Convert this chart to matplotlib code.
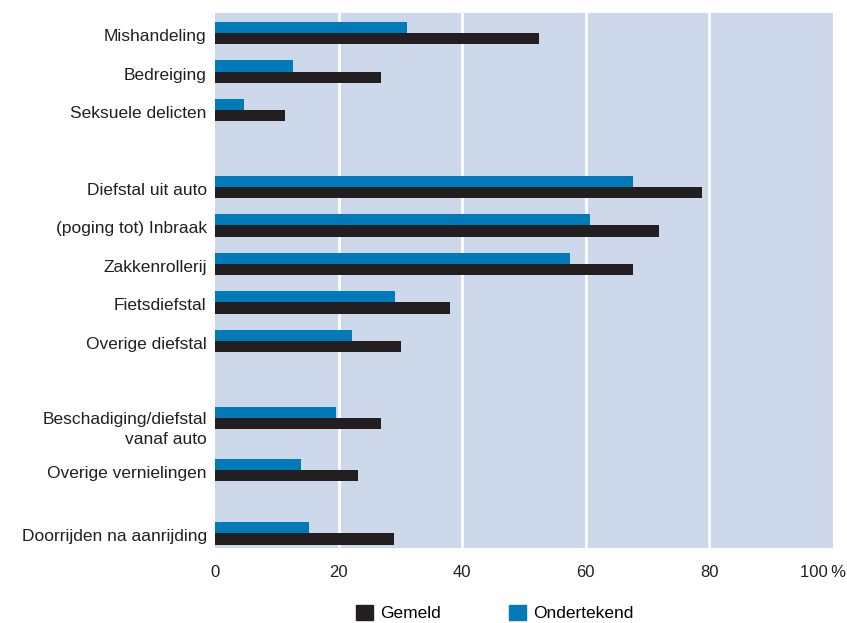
import numpy as np
import matplotlib.pyplot as plt
import matplotlib.transforms as mtransforms
from matplotlib.patches import Patch

# Data
categorieen = ['Mishandeling', 'Bedreiging', 'Seksuele delicten',
               'Diefstal uit auto', '(poging tot) Inbraak', 'Zakkenrollerij',
               'Fietsdiefstal', 'Overige diefstal',
               'Beschadiging/diefstal\nvanaf auto', 'Overige vernielingen',
               'Doorrijden na aanrijding']
gemeld = [52.4, 26.9, 11.3, 78.8, 71.9, 67.6, 38.1, 30.1, 26.9, 23.2, 28.9]
ondertekend = [31.1, 12.6, 4.7, 67.6, 60.7, 57.5, 29.2, 22.2, 19.6, 13.9, 15.2]
posities = [0, 1, 2, 4, 5, 6, 7, 8, 10, 11.35, 13]
xticks = [0, 20, 40, 60, 80, 100]
xticklabels = ['0', '20', '40', '60', '80', '100\u2009%']

kleur_gemeld = '#231f20'
kleur_onder = '#007ab8'
achtergrond = '#cdd9ea'

plt.rcParams['font.family'] = ['Liberation Sans', 'DejaVu Sans']

fig = plt.figure(figsize=(8.47, 6.23), dpi=100)
ax = fig.add_axes([215 / 847, 75 / 623, 618 / 847, 535 / 623])
ax.set_facecolor(achtergrond)

y = np.array(posities)
h = 0.29
ax.barh(y - h / 2, ondertekend, height=h, color=kleur_onder, zorder=3)
ax.barh(y + h / 2, gemeld, height=h, color=kleur_gemeld, zorder=3)

for x in xticks[1:-1]:
    ax.axvline(x, color='white', linewidth=2, zorder=1)

ax.set_xlim(0, 100)
ax.set_ylim(13.38, -0.52)
ax.set_yticks(y)
ax.set_yticklabels(categorieen, fontsize=12.5, color='#231f20',
                   linespacing=1.35)
ax.set_xticks(xticks)
ax.set_xticklabels(xticklabels, fontsize=12, color='#231f20')
ax.tick_params(axis='x', length=0, pad=12)
ax.tick_params(axis='y', length=0, pad=6)

# '100 %' label staat iets naar rechts
lab = ax.get_xticklabels()[-1]
lab.set_horizontalalignment('right')
lab.set_transform(lab.get_transform() +
                  mtransforms.ScaledTranslation(13 / 100, 0, fig.dpi_scale_trans))

# y-labels iets lager, het tweeregelige label nog wat meer
for i, lab in enumerate(ax.get_yticklabels()):
    dy = -8 / 100 if '\n' in categorieen[i] else -2 / 100
    lab.set_transform(lab.get_transform() +
                      mtransforms.ScaledTranslation(0, dy, fig.dpi_scale_trans))

for s in ax.spines.values():
    s.set_visible(False)

handles = [Patch(color=kleur_gemeld, label='Gemeld'),
           Patch(color=kleur_onder, label='Ondertekend')]
fig.legend(handles=handles, loc='center', bbox_to_anchor=(0.584, 0.016),
           ncol=2, frameon=False, fontsize=12.5, handlelength=1.0,
           handleheight=1.0, handletextpad=0.4, columnspacing=3.9)

fig.savefig('out.png', dpi=100)
